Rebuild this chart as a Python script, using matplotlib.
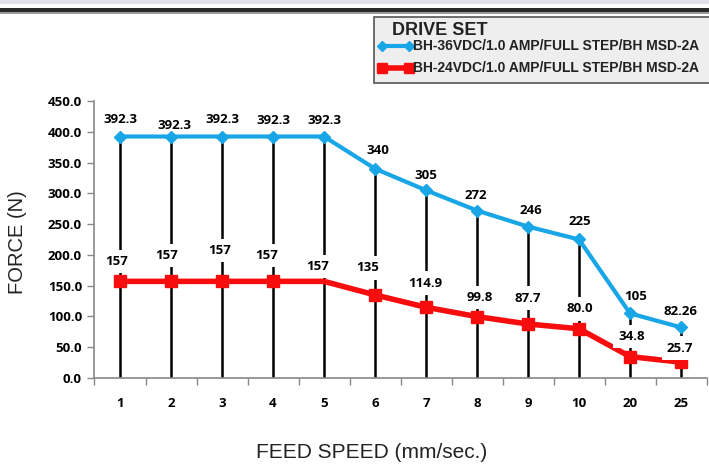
import matplotlib
matplotlib.use('Agg')
import matplotlib.pyplot as plt
from matplotlib.patches import Rectangle
from matplotlib.lines import Line2D

# 数据
speeds = ['1', '2', '3', '4', '5', '6', '7', '8', '9', '10', '20', '25']
force_36v = [392.3, 392.3, 392.3, 392.3, 392.3, 340, 305, 272, 246, 225, 105, 82.26]
force_24v = [157, 157, 157, 157, 157, 135, 114.9, 99.8, 87.7, 80.0, 34.8, 25.7]
labels_36v = ['392.3', '392.3', '392.3', '392.3', '392.3', '340', '305', '272', '246', '225', '105', '82.26']
labels_24v = ['157', '157', '157', '157', '157', '135', '114.9', '99.8', '87.7', '80.0', '34.8', '25.7']
name_36v = 'BH-36VDC/1.0 AMP/FULL STEP/BH MSD-2A'
name_24v = 'BH-24VDC/1.0 AMP/FULL STEP/BH MSD-2A'

# 标签偏移 (像素, 手动摆放, 类似 Excel)
off_36v = [(0, 17), (3, 11), (0, 17), (0, 16), (0, 16), (3, 18), (0, 15), (-1, 15), (3, 16), (1, 18), (6, 17), (-1, 16)]
off_24v = [(-3, 20), (-4, 26), (-2, 31), (-6, 26), (-6, 15), (-7, 27), (-1, 24), (3, 19), (0, 26), (1, 20), (2, 20), (-1, 14)]

BLUE = '#18a6e6'
RED = '#f70d0d'

fig = plt.figure(figsize=(7.09, 4.69), dpi=100)
W, H = 709, 469

# 顶部装饰条
fig.patches.append(Rectangle((0, 1 - 4 / H), 1, 4 / H, transform=fig.transFigure,
                             facecolor='#e0e1ea', edgecolor='none', zorder=0))
fig.patches.append(Rectangle((0, 1 - 12 / H), 1, 4 / H, transform=fig.transFigure,
                             facecolor='#2a2a2a', edgecolor='none', zorder=0))
fig.patches.append(Rectangle((0, 1 - 14 / H), 1, 2 / H, transform=fig.transFigure,
                             facecolor='#9a9a9a', edgecolor='none', zorder=0))

ax = fig.add_axes([94.5 / W, (H - 378) / H, 612 / W, 277 / H])
x = list(range(len(speeds)))

# 垂直线
ax.vlines(x, 0, force_36v, color='black', lw=1.8, zorder=1)

ax.plot(x, force_36v, color=BLUE, lw=3, marker='D', ms=6, mec=BLUE, mfc=BLUE,
        solid_joinstyle='round', zorder=3, clip_on=False)
ax.plot(x, force_24v, color=RED, lw=4, marker='s', ms=9, mec=RED, mfc=RED,
        markevery=[i for i in x if i != 4], zorder=3, clip_on=False)

lab_font = dict(family='Open Sans', weight='bold', fontsize=9.5)
for i in x:
    ax.annotate(labels_36v[i], (i, force_36v[i]), xytext=off_36v[i], textcoords='offset pixels',
                ha='center', va='center', zorder=4, **lab_font)
    ax.annotate(labels_24v[i], (i, force_24v[i]), xytext=off_24v[i], textcoords='offset pixels',
                ha='center', va='center', zorder=4,
                bbox=dict(boxstyle='square,pad=0.4', fc='white', ec='none'), **lab_font)

ax.set_xlim(-0.5, len(speeds) - 0.5)
ax.set_ylim(0, 450)
ax.set_yticks(range(0, 451, 50))
ax.set_yticklabels([f'{v:.1f}' for v in range(0, 451, 50)], **lab_font)
ax.set_xticks(x)
ax.set_xticklabels(speeds, **lab_font)
ax.set_xticks([i + 0.5 for i in range(-1, len(speeds))], minor=True)
ax.tick_params(axis='x', which='major', length=0, pad=14)
ax.tick_params(axis='x', which='minor', length=5, width=1, color='#888888', direction='out')
ax.tick_params(axis='y', length=5, width=1, color='#888888', direction='out', pad=4)

for s in ['top', 'right']:
    ax.spines[s].set_visible(False)
for s in ['left', 'bottom']:
    ax.spines[s].set_color('#888888')
    ax.spines[s].set_linewidth(1.2)

fig.text(18 / W, 1 - 242 / H, 'FORCE (N)', rotation=90, ha='center', va='center',
         family='Liberation Sans', fontsize=14.5, color='#222222')
fig.text(372 / W, 1 - 452 / H, 'FEED SPEED (mm/sec.)', ha='center', va='center',
         family='Liberation Sans', fontsize=15, color='#222222')

# 图例 (Excel 风格方框)
fig.patches.append(Rectangle((374 / W, 1 - 83 / H), 340 / W, 66 / H, transform=fig.transFigure,
                             facecolor='#eeeeee', edgecolor='#555555', lw=1.2, zorder=5))
fig.text(392 / W, 1 - 30 / H, 'DRIVE SET', ha='left', va='center', family='Liberation Sans',
         weight='bold', fontsize=13, color='#222222', zorder=6)
for yy, col, mk, ms, lw, name in [(46.5, BLUE, 'D', 5, 3, name_36v), (68, RED, 's', 7, 4, name_24v)]:
    fig.lines.append(Line2D([382 / W, 409 / W], [1 - yy / H, 1 - yy / H], transform=fig.transFigure,
                            color=col, lw=lw, marker=mk, ms=ms, mfc=col, mec=col, zorder=6))
    fig.text(413 / W, 1 - yy / H, name, ha='left', va='center', family='Liberation Sans',
             weight='bold', fontsize=10, color='#222222', zorder=6)

fig.savefig('out.png', dpi=100)
